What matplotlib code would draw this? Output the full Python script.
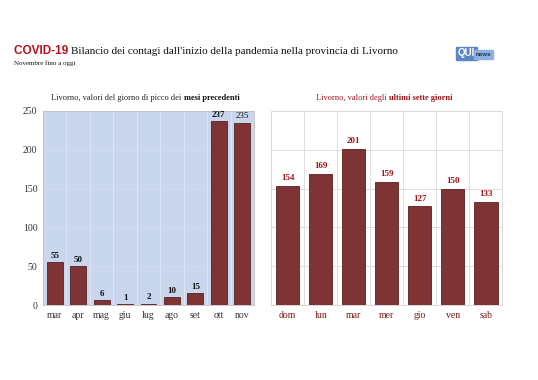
import matplotlib
matplotlib.use("Agg")
import matplotlib.pyplot as plt

months = ["mar", "apr", "mag", "giu", "lug", "ago", "set", "ott", "nov"]
month_vals = [55, 50, 6, 1, 2, 10, 15, 237, 235]
days = ["dom", "lun", "mar", "mer", "gio", "ven", "sab"]
day_vals = [154, 169, 201, 159, 127, 150, 133]
yticks = [0, 50, 100, 150, 200, 250]

SERIF = ["Liberation Serif", "DejaVu Serif"]
BAR = "#7e3434"
EDGE = "#5a2020"
RED = "#a3121a"

fig = plt.figure(figsize=(5.38, 3.80), dpi=100)
fig.patch.set_facecolor("white")
renderer = fig.canvas.get_renderer()

def rich(x, y, parts, ha="left", **kw):
    texts = []
    widths = []
    for s, st in parts:
        t = fig.text(0, 0, s, **kw, **st)
        texts.append(t)
        widths.append(t.get_window_extent(renderer).width / fig.bbox.width)
    total = sum(widths)
    x0 = x - total / 2 if ha == "center" else x
    for t, w in zip(texts, widths):
        t.set_position((x0, y))
        x0 += w

# Title
rich(0.026, 0.857, [("COVID-19 ", dict(family=["Liberation Sans", "DejaVu Sans"], weight="bold",
                                        color="#b5121b", fontsize=8.5)),
                    ("Bilancio dei contagi dall'inizio della pandemia nella provincia di Livorno",
                     dict(family=SERIF, color="#111111", fontsize=8.0))],
     va="baseline")
fig.text(0.026, 0.830, "Novembre fino a oggi", family=SERIF, fontsize=5, color="#111111", va="baseline")

# logo
fig.text(0.851, 0.852, "QUI", family=["Liberation Sans"], weight="bold", fontsize=7, color="white",
         va="baseline", bbox=dict(boxstyle="square,pad=0.15", fc="#5b86c5", ec="#5b86c5"))
fig.text(0.884, 0.852, "news", family=["Liberation Sans"], weight="bold", fontsize=4.5, color="#1b2f5a",
         va="baseline", bbox=dict(boxstyle="square,pad=0.3", fc="#8fb0dc", ec="#8fb0dc"))

# Left panel
ax1 = fig.add_axes([0.080, 0.197, 0.392, 0.511])
ax1.set_facecolor("#c8d6ee")
x1 = range(len(months))
ax1.bar(x1, month_vals, width=0.68, color=BAR, edgecolor=EDGE, linewidth=0.6, zorder=3)
ax1.set_xlim(-0.5, len(months) - 0.5)
ax1.set_ylim(0, 250)
ax1.set_yticks(yticks)
ax1.set_xticks(list(x1))
ax1.set_xticklabels(months)
for i in range(1, len(months)):
    ax1.axvline(i - 0.5, color="#dfe6f3", lw=0.8, zorder=1)
for y in yticks[1:-1]:
    ax1.axhline(y, color="#d2ddf0", lw=0.6, zorder=1)
for lab in ax1.get_xticklabels() + ax1.get_yticklabels():
    lab.set_family(SERIF)
    lab.set_fontsize(7)
    lab.set_color("#333333")
ax1.tick_params(length=0, pad=4)
for s in ax1.spines.values():
    s.set_color("#c0c0c0")
    s.set_linewidth(0.6)
for i, v in enumerate(month_vals):
    ax1.text(i, v + 3, str(v), ha="center", va="bottom", family=SERIF, fontsize=6.5,
             weight="normal" if i == len(month_vals) - 1 else "bold", color="#111111")

rich(0.270, 0.738, [("Livorno, valori del giorno di picco dei ", dict(family=SERIF, color="#222222")),
                    ("mesi precedenti", dict(family=SERIF, weight="bold", color="#111111"))],
     ha="center", fontsize=6, va="baseline")

# Right panel
ax2 = fig.add_axes([0.504, 0.197, 0.430, 0.511])
ax2.set_facecolor("white")
x2 = range(len(days))
ax2.bar(x2, day_vals, width=0.70, color=BAR, edgecolor=EDGE, linewidth=0.6, zorder=3)
ax2.set_xlim(-0.5, len(days) - 0.5)
ax2.set_ylim(0, 250)
ax2.set_yticks(yticks)
ax2.set_yticklabels([])
ax2.set_xticks(list(x2))
ax2.set_xticklabels(days)
for i in range(1, len(days)):
    ax2.axvline(i - 0.5, color="#dedede", lw=0.7, zorder=1)
for y in yticks[1:-1]:
    ax2.axhline(y, color="#dedede", lw=0.7, zorder=1)
for lab in ax2.get_xticklabels():
    lab.set_family(SERIF)
    lab.set_fontsize(7)
    lab.set_color("#7a1a1a")
ax2.tick_params(length=0, pad=4)
for s in ax2.spines.values():
    s.set_color("#d8d8d8")
    s.set_linewidth(0.7)
for i, v in enumerate(day_vals):
    ax2.text(i, v + 5, str(v), ha="center", va="bottom", family=SERIF, fontsize=6.5,
             weight="bold", color=RED)

rich(0.715, 0.738, [("Livorno, valori degli ", dict(family=SERIF, color=RED)),
                    ("ultimi sette giorni", dict(family=SERIF, weight="bold", color=RED))],
     ha="center", fontsize=6, va="baseline")

fig.savefig("out.png", dpi=100)
